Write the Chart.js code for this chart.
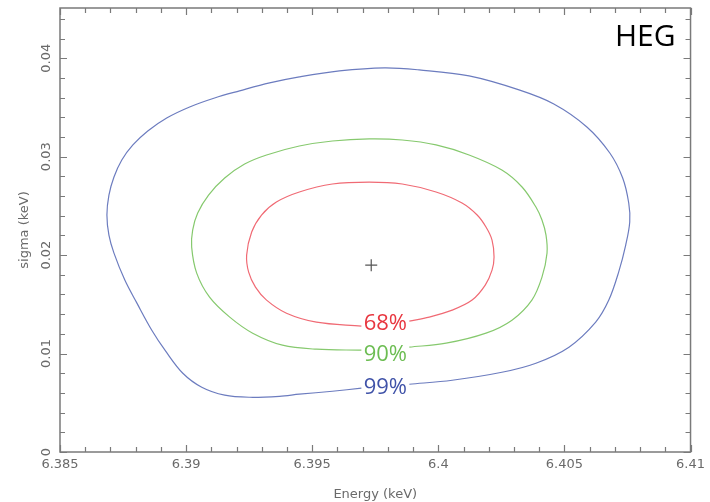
<!DOCTYPE html>
<html>
<head>
<meta charset="utf-8">
<title>HEG confidence contours</title>
<script src="https://cdn.jsdelivr.net/npm/chart.js@4/dist/chart.umd.min.js"></script>
<style>
  html, body { margin: 0; padding: 0; background: #ffffff; }
  #wrap { width: 710px; height: 502px; position: relative; }
</style>
</head>
<body>
<div id="wrap"><canvas id="chart" width="710" height="502"></canvas></div>
<script>
// Axis ticks
const xTickValues = [6.385, 6.39, 6.395, 6.4, 6.405, 6.41];
const xTickLabels = ['6.385', '6.39', '6.395', '6.4', '6.405', '6.41'];
const yTickValues = [0, 0.01, 0.02, 0.03, 0.04];
const yTickLabels = ['0', '0.01', '0.02', '0.03', '0.04'];

// Confidence levels
const levelLabels = ['68%', '90%', '99%'];
const levelLabelEnergy = [6.3979, 6.3979, 6.3979];
const levelLabelSigma = [0.01298, 0.00993, 0.00648];

// Best-fit point
const bestEnergy = [6.39734];
const bestSigma = [0.01898];

// 68% contour (energy, sigma in keV)
const c68Energy = [6.39885, 6.39964, 6.40055, 6.40134, 6.40186, 6.40213, 6.40221, 6.40213, 6.40189, 6.40154,
  6.40094, 6.39991, 6.39857, 6.39726, 6.39580, 6.39449, 6.39358, 6.39299, 6.39260, 6.39240,
  6.39248, 6.39275, 6.39319, 6.39398, 6.39517, 6.39695];
const c68Sigma = [0.01329, 0.01370, 0.01441, 0.01543, 0.01695, 0.01847, 0.01980, 0.02153, 0.02285, 0.02407,
  0.02529, 0.02641, 0.02722, 0.02742, 0.02722, 0.02641, 0.02539, 0.02407, 0.02234, 0.02000,
  0.01827, 0.01675, 0.01543, 0.01410, 0.01319, 0.01278];

// 90% contour
const c90Energy = [6.39885, 6.40031, 6.40189, 6.40292, 6.40371, 6.40411, 6.40431, 6.40427, 6.40411, 6.40387,
  6.40332, 6.40252, 6.40122, 6.39991, 6.39857, 6.39726, 6.39580, 6.39449, 6.39319, 6.39232,
  6.39153, 6.39089, 6.39046, 6.39026, 6.39022, 6.39042, 6.39093, 6.39173, 6.39264, 6.39382,
  6.39517, 6.39695];
const c90Sigma = [0.01065, 0.01105, 0.01207, 0.01339, 0.01543, 0.01776, 0.02020, 0.02203, 0.02356, 0.02488,
  0.02692, 0.02864, 0.03017, 0.03119, 0.03169, 0.03180, 0.03159, 0.03108, 0.03017, 0.02925,
  0.02783, 0.02610, 0.02427, 0.02254, 0.02081, 0.01817, 0.01573, 0.01370, 0.01207, 0.01085,
  0.01044, 0.01034];

// 99% contour
const c99Energy = [6.39885, 6.40055, 6.40252, 6.40387, 6.40518, 6.40624, 6.40676, 6.40715, 6.40743, 6.40759,
  6.40755, 6.40731, 6.40680, 6.40589, 6.40458, 6.40320, 6.40122, 6.39924, 6.39786, 6.39608,
  6.39449, 6.39331, 6.39212, 6.39113, 6.39014, 6.38923, 6.38848, 6.38789, 6.38745, 6.38714,
  6.38694, 6.38686, 6.38694, 6.38714, 6.38757, 6.38805, 6.38864, 6.38919, 6.38987, 6.39062,
  6.39153, 6.39252, 6.39370, 6.39449, 6.39580, 6.39695];
const c99Sigma = [0.00688, 0.00729, 0.00810, 0.00902, 0.01065, 0.01319, 0.01543, 0.01827, 0.02102, 0.02336,
  0.02529, 0.02783, 0.03037, 0.03302, 0.03535, 0.03678, 0.03820, 0.03881, 0.03902, 0.03871,
  0.03810, 0.03749, 0.03668, 0.03596, 0.03505, 0.03393, 0.03261, 0.03119, 0.02966, 0.02793,
  0.02610, 0.02407, 0.02203, 0.02020, 0.01746, 0.01512, 0.01237, 0.01024, 0.00800, 0.00658,
  0.00577, 0.00556, 0.00566, 0.00587, 0.00617, 0.00648];

const contourColors = ['#f06a74', '#86c96e', '#6c7cbf'];
const labelColors = ['#e8363f', '#6cbd52', '#3f52a8'];

function pairs(xs, ys) {
  return xs.map((x, i) => ({ x: x, y: ys[i] }));
}

const axisGrey = '#7a7a7a';
const textGrey = '#6a6a6a';
const tickFont = { family: 'DejaVu Sans', size: 13 };

// Frame, inward tick marks on all four sides, rotated sigma labels
const framePlugin = {
  id: 'frame',
  afterDraw(chart) {
    const { ctx, chartArea: a, scales } = chart;
    const xs = scales.x, ys = scales.y;
    ctx.save();
    ctx.strokeStyle = axisGrey;
    ctx.lineWidth = 1.5;
    ctx.strokeRect(a.left, a.top, a.right - a.left, a.bottom - a.top);
    ctx.lineWidth = 1.2;
    ctx.beginPath();
    // energy ticks every 0.001, labelled ones longer
    for (let i = 0; i <= 25; i++) {
      const v = xs.min + i * 0.001;
      const px = Math.round(xs.getPixelForValue(v)) + 0.5;
      const len = (i % 5 === 0) ? 7 : 5;
      ctx.moveTo(px, a.bottom); ctx.lineTo(px, a.bottom - len);
      ctx.moveTo(px, a.top); ctx.lineTo(px, a.top + len);
    }
    // sigma ticks every 0.002, labelled ones longer
    for (let i = 0; i <= 22; i++) {
      const v = i * 0.002;
      const py = Math.round(ys.getPixelForValue(v)) + 0.5;
      const len = (i % 5 === 0) ? 7 : 5;
      ctx.moveTo(a.left, py); ctx.lineTo(a.left + len, py);
      ctx.moveTo(a.right, py); ctx.lineTo(a.right - len, py);
    }
    ctx.stroke();

    ctx.fillStyle = textGrey;
    ctx.font = '13px "DejaVu Sans"';
    ctx.textAlign = 'center';
    ctx.textBaseline = 'middle';
    yTickValues.forEach((v, i) => {
      ctx.save();
      ctx.translate(a.left - 13, ys.getPixelForValue(v));
      ctx.rotate(-Math.PI / 2);
      ctx.fillText(yTickLabels[i], 0, 0);
      ctx.restore();
    });

    // Confidence level labels
    ctx.font = '22px "Open Sans"';
    levelLabels.forEach((t, i) => {
      ctx.fillStyle = labelColors[i];
      ctx.fillText(t, xs.getPixelForValue(levelLabelEnergy[i]), ys.getPixelForValue(levelLabelSigma[i]));
    });

    // Grating name
    ctx.fillStyle = '#000000';
    ctx.font = '30px "Open Sans"';
    ctx.textAlign = 'right';
    ctx.fillText('HEG', a.right - 15, a.top + 29);
    ctx.restore();
  }
};

const lineStyle = (color) => ({
  showLine: true,
  borderColor: color,
  borderWidth: 1.2,
  pointRadius: 0,
  tension: 0.35,
  fill: false
});

new Chart(document.getElementById('chart'), {
  type: 'scatter',
  data: {
    datasets: [
      Object.assign({ label: '68%', data: pairs(c68Energy, c68Sigma) }, lineStyle(contourColors[0])),
      Object.assign({ label: '90%', data: pairs(c90Energy, c90Sigma) }, lineStyle(contourColors[1])),
      Object.assign({ label: '99%', data: pairs(c99Energy, c99Sigma) }, lineStyle(contourColors[2])),
      {
        label: 'best fit',
        data: pairs(bestEnergy, bestSigma),
        pointStyle: 'cross',
        pointRadius: 6,
        borderColor: '#555555',
        borderWidth: 1.2,
        showLine: false
      }
    ]
  },
  options: {
    responsive: false,
    animation: false,
    layout: { padding: { left: 0, right: 18, top: 8, bottom: 0 } },
    plugins: {
      legend: { display: false },
      tooltip: { enabled: false }
    },
    scales: {
      x: {
        type: 'linear',
        min: 6.385,
        max: 6.41,
        border: { display: false },
        grid: { display: false, drawTicks: false },
        afterBuildTicks(scale) { scale.ticks = xTickValues.map(v => ({ value: v })); },
        afterFit(scale) { scale.height = 50; },
        ticks: {
          font: tickFont,
          color: textGrey,
          padding: 5,
          maxRotation: 0,
          callback(value, index) { return xTickLabels[index]; }
        },
        title: {
          display: true,
          text: 'Energy (keV)',
          color: textGrey,
          font: { family: 'DejaVu Sans', size: 13 },
          padding: { top: 1, bottom: 0 }
        }
      },
      y: {
        type: 'linear',
        min: 0,
        max: 0.0451,
        border: { display: false },
        grid: { display: false, drawTicks: false },
        afterBuildTicks(scale) { scale.ticks = yTickValues.map(v => ({ value: v })); },
        afterFit(scale) { scale.width = 60; },
        ticks: { display: false },
        title: {
          display: true,
          text: 'sigma (keV)',
          color: textGrey,
          font: { family: 'DejaVu Sans', size: 13 },
          padding: { top: 17, bottom: 0 }
        }
      }
    }
  },
  plugins: [framePlugin]
});
</script>
</body>
</html>
